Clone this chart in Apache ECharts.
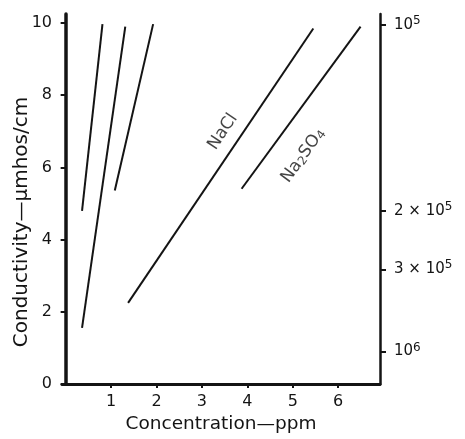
<!DOCTYPE html>
<html><head><meta charset="utf-8">
<script src="https://cdn.jsdelivr.net/npm/echarts@6/dist/echarts.min.js"></script>
<style>html,body{margin:0;padding:0;background:#fff}#c{width:465px;height:439px}</style>
</head><body><div id="c"></div>
<script>
// ---- data ----
const xTicks = [1, 2, 3, 4, 5, 6];
const yTicks = [0, 2, 4, 6, 8, 10];
const rightTickValues = [9.95, 4.8, 3.18, 0.9];
const rightTickLabels = ['10{s|5}', '2 × 10{s|5}', '3 × 10{s|5}', '10{s|6}'];
const curveA = [[0.361, 4.80], [0.811, 9.97]];
const curveB = [[0.361, 1.56], [1.313, 9.90]];
const curveC = [[1.082, 5.36], [1.926, 9.97]];
const naclLine = [[1.375, 2.25], [5.452, 9.85]];
const na2so4Line = [[3.874, 5.41], [6.492, 9.90]];
const labelNames = ['NaCl', 'Na{b|2}SO{b|4}'];
const labelX = [3.46, 5.23];
const labelY = [6.99, 6.33];
const xTitle = 'Concentration—ppm';
const yTitle = 'Conductivity—μmhos/cm';

// ---- styles ----
const ink = '#141414';
const font = 'DejaVu Sans';
const labelAngles = [56, 54];

const lineSeries = (name, data) => ({
  name, type: 'line', data, symbol: 'none', silent: true,
  lineStyle: { color: ink, width: 2 }, animation: false
});

const chart = echarts.init(document.getElementById('c'));
chart.setOption({
  animation: false,
  backgroundColor: '#fff',
  grid: { left: 62, right: 85, top: 14, bottom: 51 },
  xAxis: {
    type: 'value', min: -0.08, max: 6.92,
    name: xTitle, nameLocation: 'middle', nameGap: 30,
    nameTextStyle: { fontFamily: font, fontSize: 18.5, color: ink },
    axisLine: { show: true, lineStyle: { color: ink, width: 3 } },
    axisTick: { show: true, customValues: xTicks, length: 4, lineStyle: { color: ink, width: 2 } },
    axisLabel: { customValues: xTicks, margin: 10, fontFamily: font, fontSize: 16, color: ink },
    splitLine: { show: false }
  },
  yAxis: [{
    type: 'value', min: 0, max: 10.25, position: 'left',
    axisLine: { show: true, lineStyle: { color: ink, width: 3.5 } },
    axisTick: { show: true, customValues: yTicks, length: 5, lineStyle: { color: ink, width: 2 } },
    axisLabel: { customValues: yTicks, margin: 10, fontFamily: font, fontSize: 16, color: ink },
    splitLine: { show: false }
  }, {
    type: 'value', min: 0, max: 10.25, position: 'right',
    axisLine: { show: true, lineStyle: { color: ink, width: 2.5 } },
    axisTick: { show: true, customValues: rightTickValues, length: 6, lineStyle: { color: ink, width: 2 } },
    axisLabel: {
      customValues: rightTickValues, margin: 14, fontFamily: font, fontSize: 15, color: ink,
      formatter: (v) => {
        let best = 0;
        rightTickValues.forEach((t, i) => { if (Math.abs(t - v) < Math.abs(rightTickValues[best] - v)) best = i; });
        return rightTickLabels[best];
      },
      rich: { s: { fontFamily: font, fontSize: 12, verticalAlign: 'top', padding: [0, 0, 8, 0], color: ink } }
    },
    splitLine: { show: false }
  }],
  graphic: [{
    type: 'text', x: 22, y: 222, rotation: Math.PI / 2,
    style: { text: yTitle, fontFamily: font, fontSize: 20, fill: ink, align: 'center', verticalAlign: 'middle' }
  }],
  series: [
    lineSeries('A', curveA),
    lineSeries('B', curveB),
    lineSeries('C', curveC),
    lineSeries('NaCl', naclLine),
    lineSeries('Na2SO4', na2so4Line),
    {
      type: 'scatter', silent: true, symbolSize: 0,
      data: labelNames.map((n, i) => ({ value: [labelX[i], labelY[i]], name: n,
        label: { rotate: labelAngles[i] } })),
      label: {
        show: true, position: 'inside', formatter: (p) => p.name,
        fontFamily: font, fontSize: 17, color: ink,
        rich: { b: { fontFamily: font, fontSize: 12, verticalAlign: 'bottom', padding: [6, 0, 0, 0], color: ink } }
      }
    }
  ]
});
</script></body></html>
